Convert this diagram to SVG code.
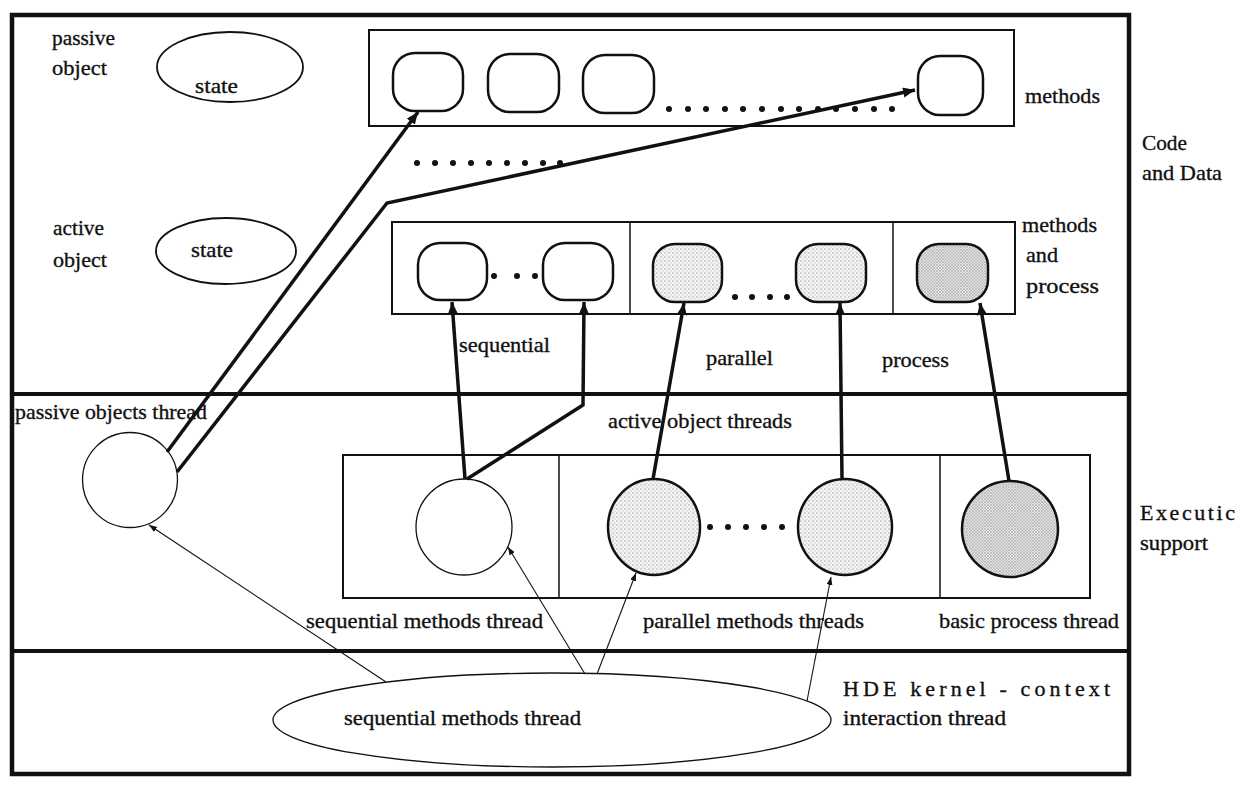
<svg xmlns="http://www.w3.org/2000/svg" width="1247" height="787" viewBox="0 0 1247 787">
  <style>
    .lbl { font-family: "Liberation Serif", "Times New Roman", serif; font-size: 22px; fill: #111; stroke: #111; stroke-width: 0.35; }
    .frame { fill: none; stroke: #111; stroke-width: 4.5; }
    .div { stroke: #111; stroke-width: 4; fill: none; }
    .box { fill: none; stroke: #111; stroke-width: 2; }
    .sep { stroke: #111; stroke-width: 1.5; }
    .meth { fill: #fff; stroke: #111; stroke-width: 2.5; }
    .par { fill: url(#stipple); stroke: #111; stroke-width: 2.5; }
    .proc { fill: url(#stippleDark); stroke: #111; stroke-width: 2.5; }
    .thin { fill: #fff; stroke: #111; stroke-width: 1.3; }
    .ell { fill: #fff; stroke: #111; stroke-width: 1.8; }
    .thick { fill: none; stroke: #111; stroke-width: 3.5; stroke-linejoin: miter; marker-end: url(#headThick); }
    .fine { fill: none; stroke: #111; stroke-width: 1.1; marker-end: url(#headThin); }
    .dot { fill: #111; }
  </style>
  <defs>
    <pattern id="stipple" width="4" height="4" patternUnits="userSpaceOnUse">
      <rect width="4" height="4" fill="#f4f4f4"/>
      <circle cx="1" cy="1" r="0.7" fill="#9a9a9a"/>
      <circle cx="3" cy="3" r="0.6" fill="#b0b0b0"/>
    </pattern>
    <pattern id="stippleDark" width="3" height="3" patternUnits="userSpaceOnUse">
      <rect width="3" height="3" fill="#e2e2e2"/>
      <circle cx="1" cy="1" r="0.7" fill="#8a8a8a"/>
      <circle cx="2.5" cy="2.5" r="0.5" fill="#a8a8a8"/>
    </pattern>
    <marker id="headThick" markerUnits="userSpaceOnUse" markerWidth="14" markerHeight="12" refX="12" refY="5" orient="auto">
      <path d="M0,0 L12,5 L0,10 Z" fill="#111"/>
    </marker>
    <marker id="headThin" markerUnits="userSpaceOnUse" markerWidth="10" markerHeight="8" refX="8" refY="3" orient="auto">
      <path d="M0,0 L8,3 L0,6 Z" fill="#111"/>
    </marker>
  </defs>

  <rect width="1247" height="787" fill="#fff"/>

  <!-- outer frame and layer dividers -->
  <g id="frame">
    <rect class="frame" x="12" y="15" width="1117" height="759"/>
    <line class="div" x1="12" y1="394" x2="1129" y2="394"/>
    <line class="div" x1="12" y1="651" x2="1129" y2="651"/>
  </g>

  <!-- layer captions -->
  <g id="layer-labels">
    <text class="lbl" x="1142" y="150" textLength="45" lengthAdjust="spacingAndGlyphs">Code</text>
    <text class="lbl" x="1142" y="180" textLength="80" lengthAdjust="spacingAndGlyphs">and Data</text>
    <text class="lbl" x="1140" y="520" textLength="95" lengthAdjust="spacing">Executic</text>
    <text class="lbl" x="1140" y="550" textLength="68" lengthAdjust="spacingAndGlyphs">support</text>
  </g>

  <!-- passive object -->
  <g id="passive-object">
    <text class="lbl" x="52" y="45" textLength="63" lengthAdjust="spacingAndGlyphs">passive</text>
    <text class="lbl" x="52" y="75" textLength="55" lengthAdjust="spacingAndGlyphs">object</text>
    <ellipse class="ell" cx="230" cy="67" rx="73" ry="35"/>
    <text class="lbl" x="195" y="93" textLength="43" lengthAdjust="spacingAndGlyphs">state</text>
  </g>

  <!-- passive object methods -->
  <g id="passive-methods">
    <rect class="box" x="369" y="30" width="645" height="96"/>
    <rect class="meth" x="393" y="53" width="70" height="58" rx="22"/>
    <rect class="meth" x="488" y="54" width="71" height="58" rx="22"/>
    <rect class="meth" x="583" y="55" width="71" height="58" rx="22"/>
    <rect class="meth" x="918" y="56" width="65" height="59" rx="22"/>
    <g class="dot">
      <circle cx="669" cy="109" r="3"/><circle cx="688" cy="109" r="3"/><circle cx="706" cy="109" r="3"/>
      <circle cx="725" cy="109" r="3"/><circle cx="743" cy="109" r="3"/><circle cx="762" cy="109" r="3"/>
      <circle cx="781" cy="109" r="3"/><circle cx="799" cy="109" r="3"/><circle cx="818" cy="109" r="3"/>
      <circle cx="836" cy="109" r="3"/><circle cx="855" cy="109" r="3"/><circle cx="874" cy="109" r="3"/>
      <circle cx="892" cy="109" r="3"/>
    </g>
    <text class="lbl" x="1025" y="103" textLength="75" lengthAdjust="spacingAndGlyphs">methods</text>
  </g>

  <!-- more objects -->
  <g id="more-objects" class="dot">
    <circle cx="417" cy="163" r="3"/><circle cx="435" cy="163" r="3"/><circle cx="453" cy="163" r="3"/>
    <circle cx="471" cy="163" r="3"/><circle cx="489" cy="163" r="3"/><circle cx="507" cy="163" r="3"/>
    <circle cx="525" cy="163" r="3"/><circle cx="543" cy="163" r="3"/><circle cx="560" cy="163" r="3"/>
  </g>

  <!-- active object -->
  <g id="active-object">
    <text class="lbl" x="53" y="235" textLength="51" lengthAdjust="spacingAndGlyphs">active</text>
    <text class="lbl" x="53" y="267" textLength="54" lengthAdjust="spacingAndGlyphs">object</text>
    <ellipse class="ell" cx="226" cy="251" rx="70" ry="33"/>
    <text class="lbl" x="191" y="257" textLength="42" lengthAdjust="spacingAndGlyphs">state</text>
  </g>

  <!-- active object methods and process -->
  <g id="active-methods">
    <rect class="box" x="392" y="222" width="623" height="92"/>
    <line class="sep" x1="630" y1="222" x2="630" y2="314"/>
    <line class="sep" x1="893" y1="222" x2="893" y2="314"/>
    <rect class="meth" x="418" y="243" width="69" height="57" rx="22"/>
    <rect class="meth" x="543" y="243" width="70" height="57" rx="22"/>
    <rect class="par" x="653" y="244" width="69" height="58" rx="22"/>
    <rect class="par" x="796" y="244" width="70" height="58" rx="22"/>
    <rect class="proc" x="917" y="244" width="71" height="58" rx="22"/>
    <g class="dot">
      <circle cx="494" cy="276" r="3"/><circle cx="517" cy="276" r="3"/><circle cx="535" cy="276" r="3"/>
      <circle cx="735" cy="297" r="3"/><circle cx="752" cy="297" r="3"/><circle cx="770" cy="297" r="3"/><circle cx="787" cy="297" r="3"/>
    </g>
    <text class="lbl" x="1022" y="232" textLength="75" lengthAdjust="spacingAndGlyphs">methods</text>
    <text class="lbl" x="1026" y="262" textLength="32" lengthAdjust="spacingAndGlyphs">and</text>
    <text class="lbl" x="1026" y="293" textLength="73" lengthAdjust="spacingAndGlyphs">process</text>
  </g>

  <!-- method kind captions -->
  <g id="kind-labels">
    <text class="lbl" x="459" y="352" textLength="91" lengthAdjust="spacingAndGlyphs">sequential</text>
    <text class="lbl" x="706" y="365" textLength="67" lengthAdjust="spacingAndGlyphs">parallel</text>
    <text class="lbl" x="882" y="367" textLength="67" lengthAdjust="spacingAndGlyphs">process</text>
  </g>

  <!-- passive objects thread -->
  <g id="passive-thread">
    <text class="lbl" x="15" y="419" textLength="192" lengthAdjust="spacingAndGlyphs">passive objects thread</text>
    <circle class="thin" cx="130" cy="480" r="47.5"/>
  </g>

  <!-- active object threads -->
  <g id="active-threads">
    <text class="lbl" x="608" y="428" textLength="184" lengthAdjust="spacingAndGlyphs">active object threads</text>
    <rect class="box" x="343" y="455" width="747" height="143"/>
    <line class="sep" x1="559" y1="455" x2="559" y2="598"/>
    <line class="sep" x1="940" y1="455" x2="940" y2="598"/>
    <circle class="thin" cx="464" cy="527" r="48"/>
    <ellipse class="par" cx="654" cy="527" rx="46" ry="48"/>
    <ellipse class="par" cx="845" cy="527" rx="47" ry="48"/>
    <ellipse class="proc" cx="1010" cy="529" rx="48" ry="48"/>
    <g class="dot">
      <circle cx="710" cy="527" r="3"/><circle cx="728" cy="527" r="3"/><circle cx="746" cy="527" r="3"/>
      <circle cx="764" cy="527" r="3"/><circle cx="782" cy="527" r="3"/>
    </g>
    <text class="lbl" x="306" y="628" textLength="237" lengthAdjust="spacingAndGlyphs">sequential methods thread</text>
    <text class="lbl" x="643" y="628" textLength="221" lengthAdjust="spacingAndGlyphs">parallel methods threads</text>
    <text class="lbl" x="939" y="628" textLength="180" lengthAdjust="spacingAndGlyphs">basic process thread</text>
  </g>

  <!-- HDE kernel -->
  <g id="kernel">
    <ellipse class="ell" cx="552" cy="720" rx="279" ry="47" style="stroke-width:1.3"/>
    <text class="lbl" x="344" y="725" textLength="237" lengthAdjust="spacingAndGlyphs">sequential methods thread</text>
    <text class="lbl" x="843" y="696" textLength="267" lengthAdjust="spacing">HDE kernel - context</text>
    <text class="lbl" x="843" y="725" textLength="163" lengthAdjust="spacingAndGlyphs">interaction thread</text>
  </g>

  <!-- connectors -->
  <g id="connectors">
    <line class="thick" x1="167" y1="452" x2="418" y2="112"/>
    <polyline class="thick" points="177,472 387,203 915,90"/>
    <line class="thick" x1="465" y1="479" x2="452" y2="302"/>
    <polyline class="thick" points="467,479 583,405 584,302"/>
    <line class="thick" x1="653" y1="479" x2="684" y2="303"/>
    <line class="thick" x1="842" y1="479" x2="840" y2="303"/>
    <line class="thick" x1="1009" y1="481" x2="980" y2="303"/>
    <line class="fine" x1="386" y1="682" x2="149" y2="525"/>
    <line class="fine" x1="585" y1="674" x2="508" y2="547"/>
    <line class="fine" x1="597" y1="674" x2="636" y2="573"/>
    <line class="fine" x1="807" y1="701" x2="831" y2="577"/>
  </g>
</svg>
